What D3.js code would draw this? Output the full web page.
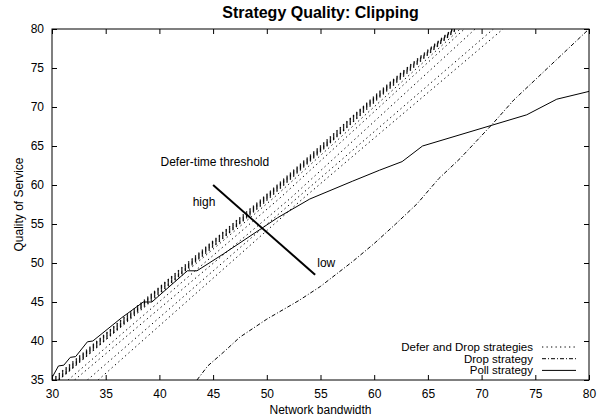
<!DOCTYPE html>
<html>
<head>
<meta charset="utf-8">
<script src="https://cdn.jsdelivr.net/npm/d3@7"></script>
<style>
  body { margin: 0; background: #fff; }
  svg { font-family: "Liberation Sans", Arial, Helvetica, sans-serif; }
  .tick line { stroke: #000; }
  .tick text { font-size: 12px; fill: #000; }
</style>
</head>
<body>
<div id="graph"></div>
<script>
// axis ticks
var xTicks = [30, 35, 40, 45, 50, 55, 60, 65, 70, 75, 80];
var yTicks = [35, 40, 45, 50, 55, 60, 65, 70, 75, 80];

// Defer and Drop strategies (one line per defer-time threshold), [bandwidth, quality]
// the first six run almost on top of each other and give the hatched band
var deferA = [[30, 35.0], [40, 46.9], [49.6, 58.3], [55, 65.0], [60.5, 72.0], [67.3, 80.0]];
var deferB = [[30, 34.85], [40, 46.75], [49.6, 58.15], [55, 64.85], [60.5, 71.85], [67.4, 80.0]];
var deferC = [[30, 34.7], [40, 46.6], [49.6, 58.0], [55, 64.7], [60.5, 71.7], [67.45, 80.0]];
var deferD = [[30, 34.55], [40, 46.45], [49.6, 57.85], [55, 64.55], [60.5, 71.55], [67.5, 80.0]];
var deferE = [[30, 34.4], [40, 46.3], [49.6, 57.7], [55, 64.4], [60.5, 71.4], [67.6, 80.0]];
var deferK = [[30, 34.25], [40, 46.15], [49.6, 57.55], [55, 64.25], [60.5, 71.25], [67.7, 80.0]];
var deferF = [[30.6, 35], [50.6, 58.3], [68.0, 80]];
var deferG = [[31.5, 35], [51.2, 58.3], [68.4, 80]];
var deferH = [[32.1, 35], [52.2, 58.3], [69.4, 80]];
var deferI = [[33.3, 35], [52.8, 58.3], [71.1, 80]];
var deferJ = [[34.3, 35], [53.4, 58.3], [60.5, 66.6], [72.0, 80]];

// Drop strategy
var dropStrategy = [[43.5, 35], [44.5, 36.8], [46, 38.6], [47.5, 40.5], [50, 42.8], [53, 45.2],
  [55, 47], [58, 50.2], [60, 52.5], [62, 55], [64, 57.6], [66, 60.8], [68, 63.4],
  [71, 67.8], [73, 70.9], [76, 74.8], [80, 80]];

// Poll strategy
var pollStrategy = [[30, 35.3], [30.6, 36.8], [31.1, 36.9], [31.7, 37.9], [32.2, 38], [33.3, 39.9],
  [33.8, 40], [36.5, 43], [38.5, 45], [39.3, 45], [42.6, 49], [43.5, 49], [46, 51.2],
  [51, 55.8], [54, 58.2], [58, 60.5], [60.5, 61.9], [62.6, 63], [64.5, 65], [74.2, 69],
  [77, 71], [80, 72]];

// threshold annotation
var thresholdLine = [[45, 60], [54.5, 48.5]];
var labels = [
  { text: 'Defer-time threshold', x: 40.1, y: 62.4 },
  { text: 'high', x: 43.1, y: 57.3 },
  { text: 'low', x: 54.7, y: 49.5 }
];

var legendItems = ['Defer and Drop strategies', 'Drop strategy', 'Poll strategy'];

var deferBand = [deferA, deferB, deferC, deferD, deferE, deferK];
var deferLines = [deferF, deferG, deferH, deferI, deferJ];

var W = 602, H = 418;
var margin = { top: 29, right: 13, bottom: 38, left: 52 };
var width = W - margin.left - margin.right;
var height = H - margin.top - margin.bottom;

var DOTTED = '1.3,3.2';
var DASHDOT = '4,2,1,2';

var x = d3.scaleLinear().domain([30, 80]).range([0, width]);
var y = d3.scaleLinear().domain([35, 80]).range([height, 0]);

var svg = d3.select('#graph').append('svg')
  .attr('width', W)
  .attr('height', H);

// title
svg.append('text')
  .attr('x', margin.left + width / 2)
  .attr('y', 18)
  .attr('text-anchor', 'middle')
  .style('font-size', '16px')
  .style('font-weight', 'bold')
  .text('Strategy Quality: Clipping');

var g = svg.append('g')
  .attr('transform', 'translate(' + margin.left + ',' + margin.top + ')');

g.append('clipPath').attr('id', 'clip')
  .append('rect').attr('width', width).attr('height', height);

// axes, ticks point inward and are mirrored on top/right
g.append('g')
  .attr('transform', 'translate(0,' + height + ')')
  .call(d3.axisBottom(x).tickValues(xTicks).tickSize(-5).tickPadding(9));
g.append('g')
  .call(d3.axisTop(x).tickValues(xTicks).tickSize(-5).tickFormat(''));
g.append('g')
  .call(d3.axisLeft(y).tickValues(yTicks).tickSize(-5).tickPadding(8));
g.append('g')
  .attr('transform', 'translate(' + width + ',0)')
  .call(d3.axisRight(y).tickValues(yTicks).tickSize(-5).tickFormat(''));
g.selectAll('.domain').remove();

g.append('rect')
  .attr('width', width)
  .attr('height', height)
  .attr('fill', 'none')
  .attr('stroke', '#000');

// axis titles
svg.append('text')
  .attr('x', margin.left + width / 2)
  .attr('y', 414)
  .attr('text-anchor', 'middle')
  .style('font-size', '12px')
  .text('Network bandwidth');
svg.append('text')
  .attr('transform', 'translate(23,' + (margin.top + height / 2) + ') rotate(-90)')
  .attr('text-anchor', 'middle')
  .style('font-size', '12px')
  .text('Quality of Service');

var line = d3.line()
  .x(function(d) { return x(d[0]); })
  .y(function(d) { return y(d[1]); });

var plot = g.append('g').attr('clip-path', 'url(#clip)');

// hatched band: dots of neighbouring lines stack into short strokes
plot.selectAll('path.band')
  .data(deferBand)
  .enter().append('path')
  .attr('class', 'band')
  .attr('d', line)
  .attr('fill', 'none')
  .attr('stroke', '#000')
  .attr('stroke-width', 1.3)
  .attr('stroke-dasharray', DOTTED);

plot.selectAll('path.defer')
  .data(deferLines)
  .enter().append('path')
  .attr('class', 'defer')
  .attr('d', line)
  .attr('fill', 'none')
  .attr('stroke', '#000')
  .attr('stroke-width', 1)
  .attr('stroke-dasharray', DOTTED);

plot.append('path')
  .datum(dropStrategy)
  .attr('d', line)
  .attr('fill', 'none')
  .attr('stroke', '#000')
  .attr('stroke-width', 1)
  .attr('stroke-dasharray', DASHDOT);

plot.append('path')
  .datum(pollStrategy)
  .attr('d', line)
  .attr('fill', 'none')
  .attr('stroke', '#000')
  .attr('stroke-width', 1);

// threshold marker
g.append('path')
  .datum(thresholdLine)
  .attr('d', line)
  .attr('fill', 'none')
  .attr('stroke', '#000')
  .attr('stroke-width', 2);

g.selectAll('text.note')
  .data(labels)
  .enter().append('text')
  .attr('class', 'note')
  .attr('x', function(d) { return x(d.x); })
  .attr('y', function(d) { return y(d.y); })
  .style('font-size', '12px')
  .text(function(d) { return d.text; });

// legend, bottom right inside the frame
var dashes = [DOTTED, DASHDOT, null];
var legend = svg.append('g');
legendItems.forEach(function(name, i) {
  var ly = 347 + i * 11.7;
  legend.append('text')
    .attr('x', 533)
    .attr('y', ly + 4)
    .attr('text-anchor', 'end')
    .style('font-size', '11.5px')
    .text(name);
  legend.append('line')
    .attr('x1', 542).attr('x2', 576)
    .attr('y1', ly).attr('y2', ly)
    .attr('stroke', '#000')
    .attr('stroke-dasharray', dashes[i]);
});
</script>
</body>
</html>
